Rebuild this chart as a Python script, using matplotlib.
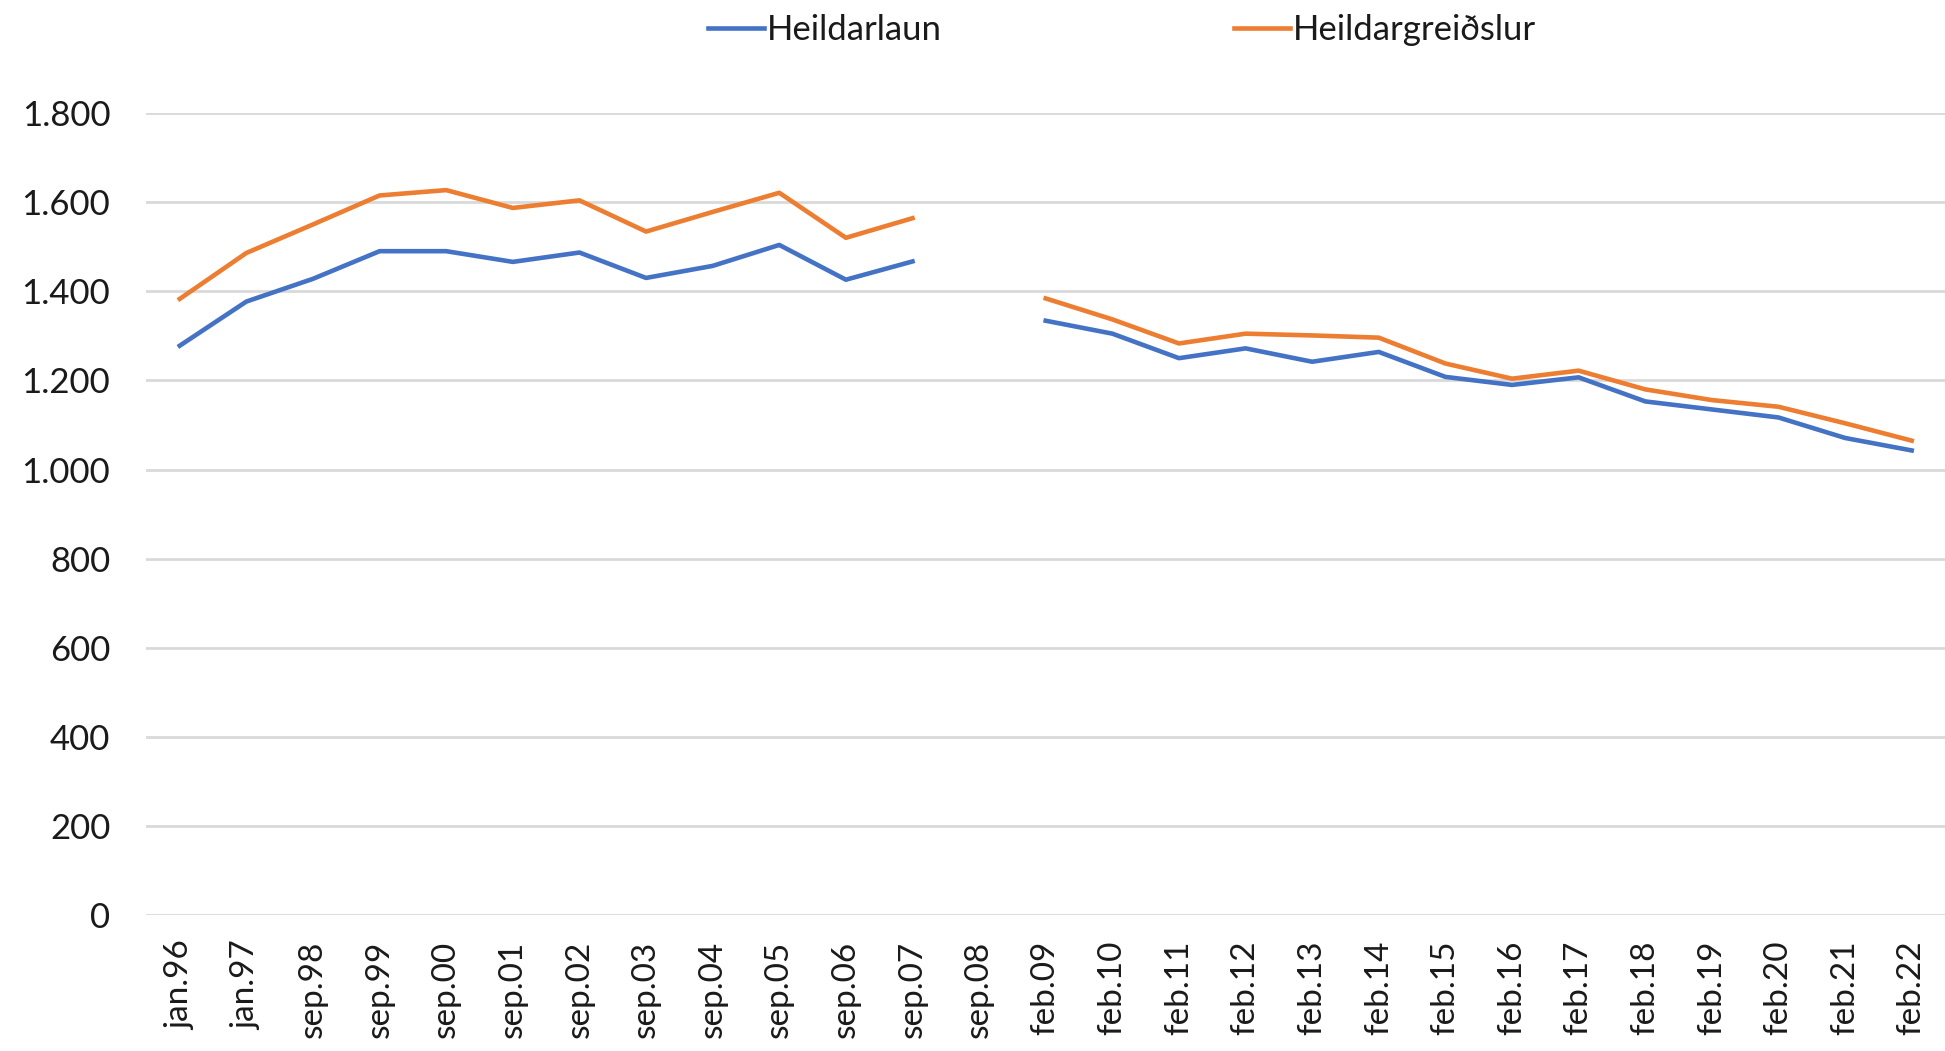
import numpy as np
import matplotlib.pyplot as plt

plt.rcParams['font.family'] = ['Lato', 'DejaVu Sans']

categories = ["jan.96", "jan.97", "sep.98", "sep.99", "sep.00", "sep.01", "sep.02",
              "sep.03", "sep.04", "sep.05", "sep.06", "sep.07", "sep.08",
              "feb.09", "feb.10", "feb.11", "feb.12", "feb.13", "feb.14", "feb.15",
              "feb.16", "feb.17", "feb.18", "feb.19", "feb.20", "feb.21", "feb.22"]

heildarlaun = [1278, 1377, 1428, 1490, 1490, 1466, 1487, 1430, 1457, 1504, 1426, 1467,
               np.nan,
               1334, 1305, 1250, 1272, 1242, 1264, 1208, 1190, 1207, 1153, 1135, 1117,
               1071, 1043]
heildargreidslur = [1383, 1486, 1550, 1615, 1627, 1587, 1604, 1534, 1578, 1621, 1520, 1564,
                    np.nan,
                    1384, 1337, 1283, 1305, 1301, 1296, 1238, 1204, 1222, 1180, 1156, 1141,
                    1104, 1065]

y_ticks = [0, 200, 400, 600, 800, 1000, 1200, 1400, 1600, 1800]
y_labels = ["0", "200", "400", "600", "800", "1.000", "1.200", "1.400", "1.600", "1.800"]

fig = plt.figure(figsize=(19.45, 10.51), dpi=100)
ax = fig.add_axes([0.0753, 0.129, 0.9247, 0.7635])

x = np.arange(len(categories))
l1, = ax.plot(x, heildarlaun, color="#4472C4", linewidth=3.3, label="Heildarlaun")
l2, = ax.plot(x, heildargreidslur, color="#ED7D31", linewidth=3.3, label="Heildargreiðslur")

ax.set_xlim(-0.5, len(categories) - 0.5)
ax.set_ylim(0, 1800)
ax.set_yticks(y_ticks)
ax.set_yticklabels(y_labels, fontsize=25, color="#1a1a1a")
ax.set_xticks(x)
ax.set_xticklabels(categories, rotation=90, fontsize=24, color="#1a1a1a")
ax.tick_params(axis="y", length=0, pad=26)
ax.tick_params(axis="x", length=0, pad=18)
ax.grid(axis="y", color="#d9d9d9", linewidth=2)
ax.set_axisbelow(True)
for s in ax.spines.values():
    s.set_visible(False)

fig.legend(handles=[l1, l2], loc="upper center", bbox_to_anchor=(0.577, 1.016), ncol=2,
           frameon=False, fontsize=25, handlelength=1.6, handletextpad=0.1,
           columnspacing=8.4, labelcolor="#1a1a1a")

plt.savefig("out.png", dpi=100)
plt.close()
